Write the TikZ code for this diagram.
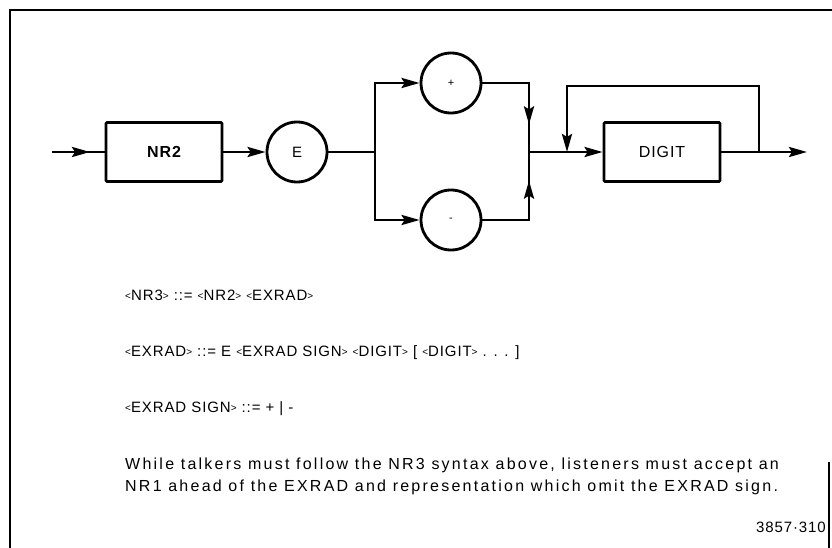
\documentclass[tikz,border=0pt]{standalone}
\usepackage{fontspec}
\setmainfont{Liberation Sans}
\newfontfamily\tekfont[LetterSpace=6]{Liberation Sans}
\newfontfamily\notefont[LetterSpace=14]{Liberation Sans}
\usetikzlibrary{arrows.meta,decorations.markings}

% small angle brackets round a syntax name
\newcommand{\syn}[1]{{\fontsize{10}{10}\selectfont\raisebox{1pt}{<}}#1{\fontsize{10}{10}\selectfont\raisebox{1pt}{>}}}

\begin{document}
\begin{tikzpicture}[x=1pt,y=-1pt,
    wire/.style={line width=2.8pt},
    arr/.style={-{Stealth[length=18pt,width=10pt,inset=3pt]}},
    arrowat/.style={postaction={decorate},decoration={markings,
        mark=at position #1 with {\arrow{Stealth[length=18pt,width=10pt,inset=3pt]}}}},
    syntbox/.style={draw,line width=2.8pt,rounded corners=1pt,minimum width=116pt,
        minimum height=59pt,font=\tekfont\fontsize{16}{18}\selectfont},
    syntterm/.style={draw,circle,line width=2.8pt,minimum size=60pt,inner sep=0pt,
        font=\tekfont\fontsize{15}{18}\selectfont},
    txt/.style={anchor=base west,inner sep=0pt,font=\tekfont\fontsize{15}{22}\selectfont},
    note/.style={txt,font=\notefont\fontsize{16}{22}\selectfont}]
    \useasboundingbox (0,0) rectangle (832,548);
    % frame
    \draw[line width=2.8pt] (832,10) -- (10,10) -- (10,548);
    \draw[line width=1.5pt] (829,462) -- (829,548);

    % syntax diagram
    \coordinate (in) at (52,152);
    \node[syntbox] (nr2) at (164,152) {\bfseries NR2};
    \node[syntterm] (e) at (297,152) {E};
    \coordinate (split) at (375,152);
    \node[syntterm] (plus) at (451,83) {\fontsize{11}{11}\selectfont +};
    \node[syntterm] (minus) at (451,220) {\fontsize{11}{11}\selectfont -};
    \coordinate (join) at (529,152);
    \coordinate (loop) at (567,152);
    \node[syntbox] (digit) at (662,152) {DIGIT};
    \coordinate (back) at (759,152);
    \coordinate (out) at (807,152);

    \draw[wire,arrowat=38pt] (in) -- (nr2);
    \draw[wire,arr] (nr2) -- (e);
    \draw[wire] (e) -- (split);
    \draw[wire,arr] (split) |- (plus);
    \draw[wire,arr] (split) |- (minus);
    \draw[wire,arrowat=88pt] (plus) -| (join);
    \draw[wire,arrowat=86pt] (minus) -| (join);
    \draw[wire,arr] (join) -- (digit);
    \draw[wire,arr] (digit) -- (out);
    \draw[wire,arr] (back) -- ++(0,-66) -| (loop);

    % syntax rules
    \node[txt] (nr3) at (125,300) {\syn{NR3} ::= \syn{NR2} \syn{EXRAD}};
    \node[txt] (exrad) at (125,356) {\syn{EXRAD} ::= E \syn{EXRAD SIGN} \syn{DIGIT} [ \syn{DIGIT} . . . ]};
    \node[txt] (sign) at (125,412) {\syn{EXRAD SIGN} ::= + | -};
    \node[note] (note1) at (125,469) {While talkers must follow the NR3 syntax above, listeners must accept an};
    \node[note] (note2) at (125,491) {NR1 ahead of the EXRAD and representation which omit the EXRAD sign.};
    \node[txt,anchor=base east] (fig) at (826,532) {3857·310};
\end{tikzpicture}
\end{document}
